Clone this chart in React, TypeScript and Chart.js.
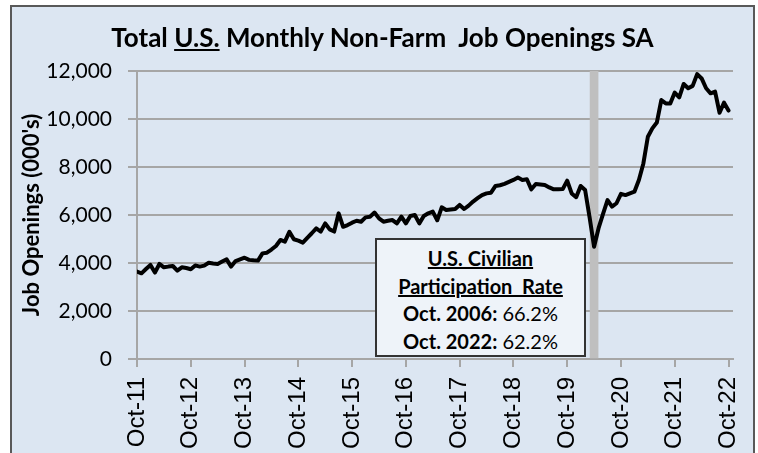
import React, { useEffect, useRef } from "react";
import { Chart, registerables } from "chart.js";

Chart.register(...registerables);

// Months since Oct-2011 (0 = Oct-11 ... 132 = Oct-22)
const tickMonths = [0, 12, 24, 36, 48, 60, 72, 84, 96, 108, 120, 132];
const tickLabels = ["Oct-11", "Oct-12", "Oct-13", "Oct-14", "Oct-15", "Oct-16", "Oct-17", "Oct-18", "Oct-19", "Oct-20", "Oct-21", "Oct-22"];

// Monthly job openings (000's), Oct-2011 .. Oct-2022
const jobOpenings = [
  3640, 3570, 3750, 3920, 3600, 3960, 3820, 3850, 3875, 3680, 3820, 3790,
  3740, 3900, 3850, 3890, 4010, 3980, 3960, 4060, 4150, 3850, 4080, 4150,
  4220, 4130, 4110, 4100, 4400, 4430, 4560, 4710, 4960, 4890, 5300, 4990,
  4930, 4850, 5050, 5240, 5440, 5310, 5650, 5400, 5310, 6070, 5510, 5580,
  5680, 5760, 5720, 5900, 5930, 6100, 5860, 5720, 5760, 5790, 5650, 5930,
  5650, 5960, 6000, 5650, 5960, 6070, 6140, 5780, 6320, 6210, 6230, 6250,
  6420, 6250, 6390, 6560, 6700, 6830, 6900, 6930, 7210, 7240, 7300, 7380,
  7460, 7560, 7460, 7490, 7070, 7290, 7270, 7250, 7150, 7070, 7070, 7080,
  7430, 6900, 6740, 7210, 7040, 5900, 4680, 5450, 6050, 6620, 6350, 6490,
  6880, 6830, 6900, 6970, 7460, 8150, 9260, 9610, 9850, 10790, 10650, 10650,
  11100, 10900, 11460, 11280, 11380, 11870, 11690, 11280, 11070, 11140, 10260, 10680,
  10350,
];

// Shaded recession month (Apr-2020) and its height
const recessionMonths = [102];
const recessionTops = [12000];

const yMin = 0;
const yMax = 12000;
const yStep = 2000;

export default function App() {
  const canvasRef = useRef<HTMLCanvasElement | null>(null);

  useEffect(() => {
    const canvas = canvasRef.current;
    if (!canvas) return;
    const chart = new Chart(canvas, {
      type: "line",
      data: {
        datasets: [
          {
            type: "line",
            data: jobOpenings.map((v, i) => ({ x: i, y: v })),
            borderColor: "#000000",
            borderWidth: 4,
            pointRadius: 0,
            tension: 0,
            borderJoinStyle: "round",
            borderCapStyle: "round",
            order: 1,
          } as any,
          {
            type: "bar",
            data: recessionMonths.map((m, i) => ({ x: m, y: recessionTops[i] })),
            backgroundColor: "#BFBFBF",
            borderWidth: 0,
            barThickness: 8,
            order: 2,
          } as any,
        ],
      },
      options: {
        animation: false,
        responsive: false,
        maintainAspectRatio: false,
        layout: { padding: { left: 12, right: 25, top: 71, bottom: 0 } },
        plugins: {
          legend: { display: false },
          tooltip: { enabled: false },
          title: { display: false },
        },
        scales: {
          x: {
            type: "linear",
            min: 0,
            max: 133,
            offset: false,
            afterBuildTicks: (s: any) => {
              s.ticks = tickMonths.map((v) => ({ value: v }));
            },
            ticks: {
              autoSkip: false,
              maxRotation: 90,
              minRotation: 90,
              padding: 10,
              color: "#000000",
              font: { family: '"Liberation Sans", Arial, sans-serif', size: 24 },
              callback: (_v: any, i: number) => tickLabels[i],
            },
            grid: {
              offset: false,
              drawOnChartArea: false,
              drawTicks: true,
              tickLength: 8,
              color: "#A6A6A6",
              lineWidth: 2,
            },
            border: { display: true, color: "#A6A6A6", width: 2 },
            afterFit: (s: any) => {
              s.height = 94;
              s.paddingLeft = 0;
              s.paddingRight = 0;
            },
          },
          y: {
            min: yMin,
            max: yMax,
            ticks: {
              stepSize: yStep,
              padding: 16,
              color: "#000000",
              font: { family: "Lato, sans-serif", size: 21 },
              callback: (v: any) => Number(v).toLocaleString("en-US"),
            },
            grid: { color: "#A6A6A6", lineWidth: 2, tickLength: 9 },
            border: { display: true, color: "#A6A6A6", width: 2 },
            title: {
              display: true,
              text: "Job Openings (000's)",
              color: "#000000",
              font: { family: "Lato, sans-serif", size: 22, weight: "bold" },
              padding: { top: 7, bottom: 0 },
            },
            afterFit: (s: any) => {
              s.width = 125;
              s.paddingTop = 0;
              s.paddingBottom = 0;
            },
          },
        },
      } as any,
    });
    return () => chart.destroy();
  }, []);

  return (
    <div style={{ position: "fixed", left: 0, top: 0, width: 758, height: 453, overflow: "hidden", background: "#FFFFFF" }}>
      <div
        style={{
          position: "absolute",
          left: 10,
          top: 5,
          width: 745,
          height: 470,
          boxSizing: "border-box",
          border: "2px solid #595959",
          background: "#DCE6F2",
        }}
      />
      <canvas ref={canvasRef} width={758} height={453} style={{ position: "absolute", left: 0, top: 0, width: 758, height: 453 }} />
      <div
        style={{
          position: "absolute",
          left: 10,
          top: 23,
          width: 745,
          height: 28,
          lineHeight: "28px",
          textAlign: "center",
          fontFamily: "Lato, sans-serif",
          fontWeight: "bold",
          fontSize: 26,
          color: "#000000",
          whiteSpace: "pre",
        }}
      >
        {"Total "}
        <span style={{ textDecoration: "underline" }}>U.S.</span>
        {" Monthly Non-Farm  Job Openings SA"}
      </div>
      <div
        style={{
          position: "absolute",
          left: 375,
          top: 238,
          width: 211,
          height: 119,
          boxSizing: "border-box",
          border: "2px solid #333333",
          background: "#EEF3F9",
          paddingTop: 5,
          fontFamily: "Lato, sans-serif",
          fontSize: 20,
          lineHeight: "27.5px",
          color: "#000000",
          textAlign: "center",
          whiteSpace: "pre",
        }}
      >
        <div style={{ fontWeight: "bold", textDecoration: "underline" }}>U.S. Civilian</div>
        <div style={{ fontWeight: "bold", textDecoration: "underline" }}>{"Participation  Rate"}</div>
        <div>
          <b>Oct. 2006:</b> 66.2%
        </div>
        <div>
          <b>Oct. 2022:</b> 62.2%
        </div>
      </div>
    </div>
  );
}
